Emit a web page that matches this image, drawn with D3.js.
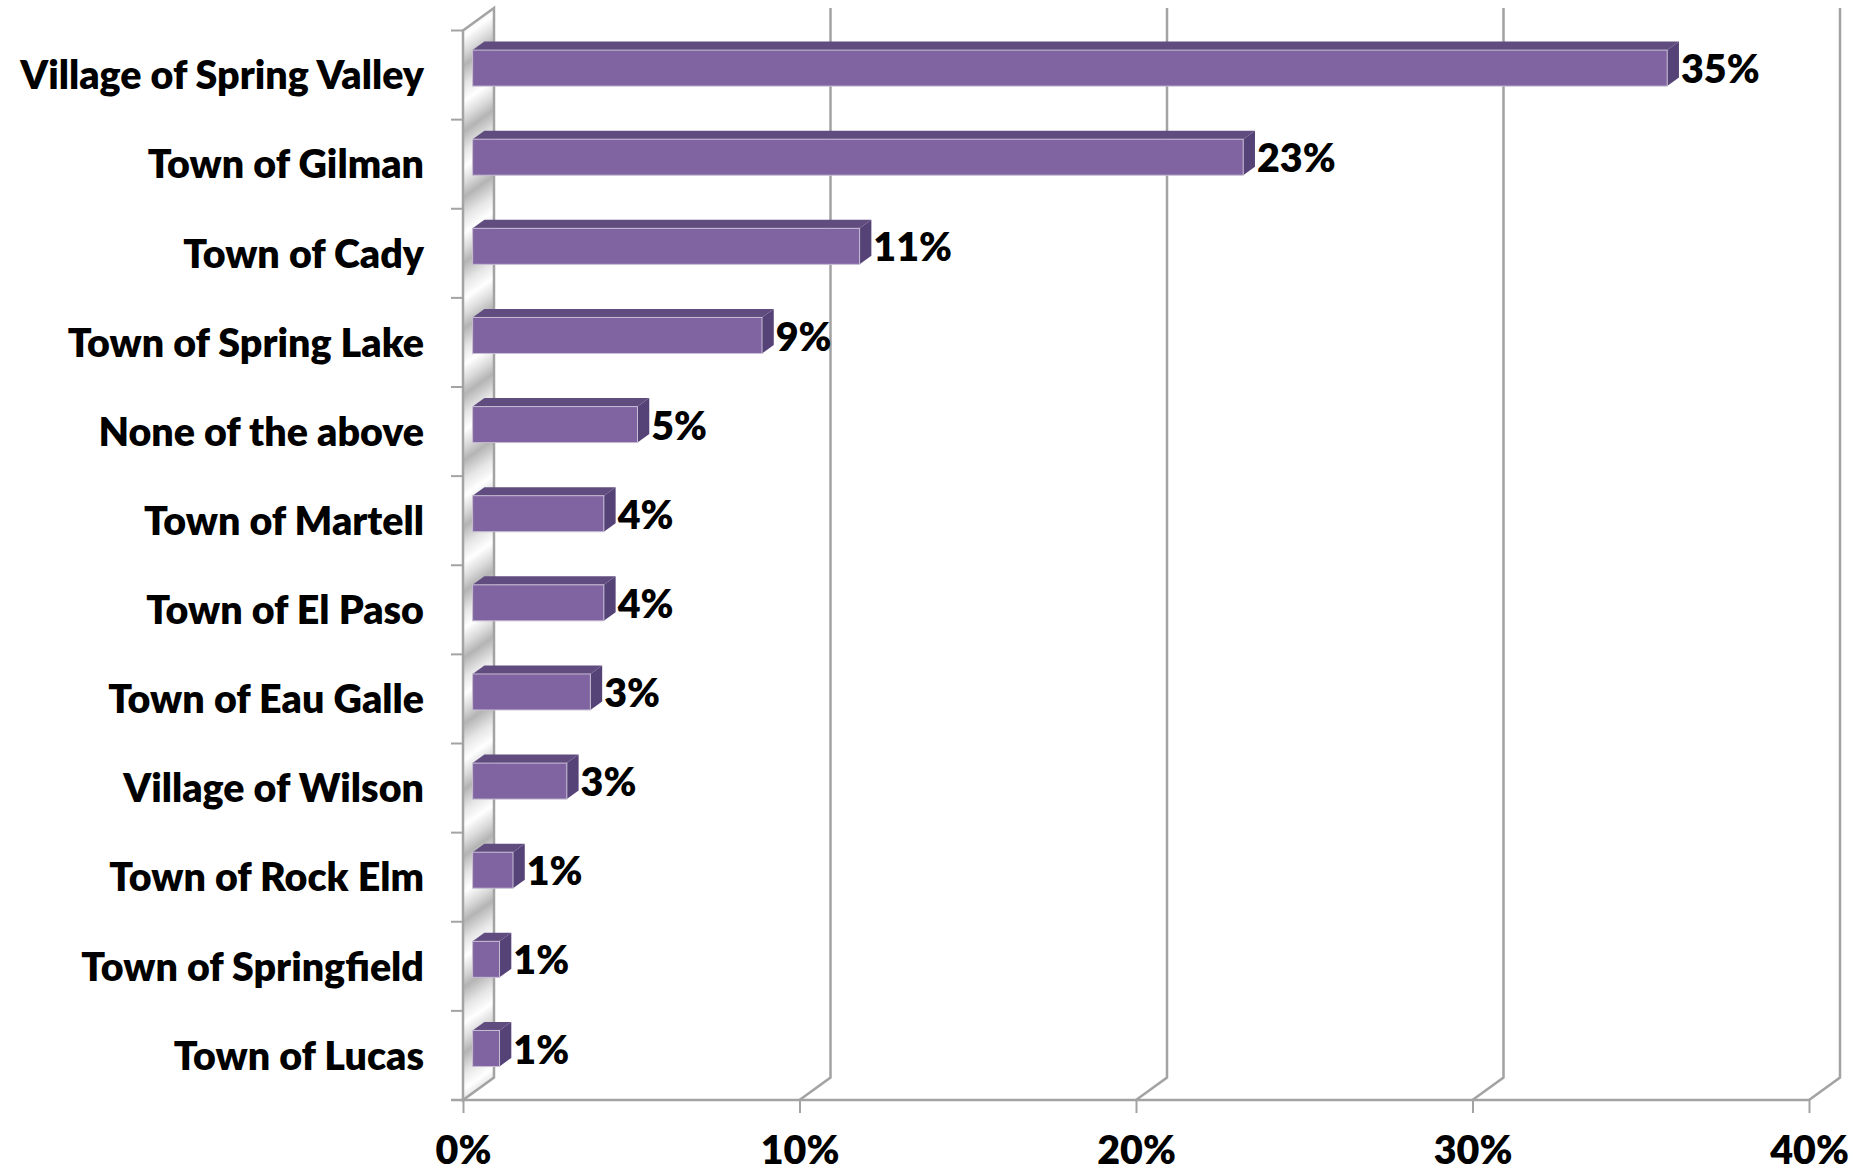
<!DOCTYPE html>
<html>
<head>
<meta charset="utf-8">
<script src="https://cdn.jsdelivr.net/npm/d3@7"></script>
<style>
  html, body { margin: 0; padding: 0; background: #fff; }
  svg { display: block; }
  text { font-family: Lato, "Open Sans", sans-serif; font-weight: 800; fill: #000; }
</style>
</head>
<body>
<div id="chart"></div>
<script>
const categories = [
  "Village of Spring Valley", "Town of Gilman", "Town of Cady", "Town of Spring Lake",
  "None of the above", "Town of Martell", "Town of El Paso", "Town of Eau Galle",
  "Village of Wilson", "Town of Rock Elm", "Town of Springfield", "Town of Lucas"
];
const values = [35.5, 22.9, 11.5, 8.6, 4.9, 3.9, 3.9, 3.5, 2.8, 1.2, 0.8, 0.8];
const valueLabels = ["35%", "23%", "11%", "9%", "5%", "4%", "4%", "3%", "3%", "1%", "1%", "1%"];
const xTicks = [0, 10, 20, 30, 40];

const width = 1864, height = 1172;
const colors = {
  grid: "#a3a3a3",
  barFront: "#8064a2",
  barTop: "#614c80",
  barSide: "#554378",
  barEdge: "#c6bdd2",
};
// 3D depth vector of the plot box and where the bars sit inside it
const depth = { dx: 31, dy: -22.5 };
const barT0 = 0.31, barT1 = 0.69;
const barThickness = 36;

const x = d3.scaleLinear().domain([0, 40]).range([463, 1809]);
const y = d3.scaleBand().domain(categories).range([30.5, 1100]);

const svg = d3.select("#chart").append("svg")
  .attr("width", width).attr("height", height);

const defs = svg.append("defs");
const wallGrad = defs.append("linearGradient")
  .attr("id", "wallGrad")
  .attr("gradientUnits", "userSpaceOnUse")
  .attr("spreadMethod", "repeat")
  .attr("x1", 463).attr("y1", 0)
  .attr("x2", 494).attr("y2", 44);
[[0, "#b4b4b4"], [0.3, "#e6e6e6"], [0.55, "#ffffff"], [0.8, "#d9d9d9"], [1, "#b4b4b4"]]
  .forEach(([o, c]) => wallGrad.append("stop").attr("offset", o).attr("stop-color", c));

const floorY = y.range()[1], topY = y.range()[0];
const x0 = x(0);

// back wall gridlines + their slant across the floor
const grid = svg.append("g").attr("stroke", colors.grid).attr("stroke-width", 2.5).attr("fill", "none");
grid.selectAll("path.grid")
  .data(xTicks.slice(1))
  .join("path")
  .attr("d", d => `M${x(d)},${floorY} L${x(d) + depth.dx},${floorY + depth.dy} L${x(d) + depth.dx},${topY + depth.dy}`);

// floor front edge
grid.append("line")
  .attr("x1", x0 - 12).attr("x2", x(40))
  .attr("y1", floorY).attr("y2", floorY);

// side wall
svg.append("path")
  .attr("d", `M${x0},${topY} L${x0 + depth.dx},${topY + depth.dy} L${x0 + depth.dx},${floorY + depth.dy} L${x0},${floorY} Z`)
  .attr("fill", "url(#wallGrad)")
  .attr("stroke", colors.grid)
  .attr("stroke-width", 2.5)
  .attr("stroke-linejoin", "miter");

// category boundary ticks
svg.append("g").attr("stroke", colors.grid).attr("stroke-width", 2)
  .selectAll("line")
  .data(categories.map(c => y(c)).concat([floorY]))
  .join("line")
  .attr("x1", x0 - 12).attr("x2", x0)
  .attr("y1", d => d).attr("y2", d => d);

// x axis
const xAxis = svg.append("g")
  .attr("transform", `translate(0,${floorY})`)
  .call(d3.axisBottom(x).tickValues(xTicks).tickFormat(d => d + "%").tickSize(13));
xAxis.select(".domain").remove();
xAxis.selectAll(".tick line").attr("stroke", colors.grid).attr("stroke-width", 2);
xAxis.selectAll(".tick text").attr("y", 64).attr("dy", 0);

// category labels
const yAxis = svg.append("g")
  .attr("transform", `translate(${x0},0)`)
  .call(d3.axisLeft(y).tickSize(0).tickPadding(39));
yAxis.select(".domain").remove();
yAxis.selectAll(".tick text").attr("dy", "0.36em");

// bars
const bars = svg.append("g").selectAll("g.bar")
  .data(categories.map((c, i) => ({ c, v: values[i], label: valueLabels[i] })))
  .join("g").attr("class", "bar");

function barGeom(d) {
  const cy = y(d.c) + y.bandwidth() / 2 + depth.dy * barT0;
  const fx0 = x0 + depth.dx * barT0;
  const fx1 = x(d.v) + depth.dx * barT0;
  const bdx = depth.dx * (barT1 - barT0), bdy = depth.dy * (barT1 - barT0);
  return { top: cy - barThickness / 2, bot: cy + barThickness / 2, fx0, fx1, bdx, bdy };
}

bars.append("path")
  .attr("fill", colors.barTop)
  .attr("d", d => {
    const g = barGeom(d);
    return `M${g.fx0},${g.top} L${g.fx0 + g.bdx},${g.top + g.bdy} L${g.fx1 + g.bdx},${g.top + g.bdy} L${g.fx1},${g.top} Z`;
  });
bars.append("path")
  .attr("fill", colors.barSide)
  .attr("d", d => {
    const g = barGeom(d);
    return `M${g.fx1},${g.top} L${g.fx1 + g.bdx},${g.top + g.bdy} L${g.fx1 + g.bdx},${g.bot + g.bdy} L${g.fx1},${g.bot} Z`;
  });
bars.append("rect")
  .attr("fill", colors.barFront)
  .attr("stroke", colors.barEdge)
  .attr("stroke-width", 1)
  .attr("x", d => barGeom(d).fx0)
  .attr("y", d => barGeom(d).top)
  .attr("width", d => barGeom(d).fx1 - barGeom(d).fx0)
  .attr("height", barThickness);

bars.append("text")
  .attr("class", "vlabel")
  .attr("x", d => barGeom(d).fx1 + barGeom(d).bdx + 2)
  .attr("y", d => y(d.c) + y.bandwidth() / 2 - 6)
  .attr("dy", "0.36em")
  .text(d => d.label);

// size the text so the longest category label spans the same width as the picture
svg.selectAll("text").attr("font-size", 33);
const longest = d3.max(yAxis.selectAll(".tick text").nodes(), n => n.getComputedTextLength());
const fontSize = Math.min(40, 33 * 404 / longest);
svg.selectAll("text").attr("font-size", fontSize);
</script>
</body>
</html>
